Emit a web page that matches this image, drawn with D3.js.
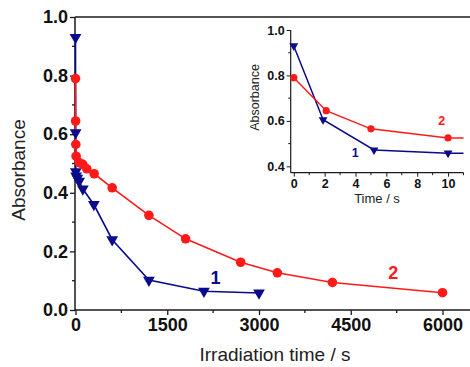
<!DOCTYPE html>
<html>
<head>
<meta charset="utf-8">
<script src="https://cdn.jsdelivr.net/npm/d3@7"></script>
<style>
html,body{margin:0;padding:0;background:#fff;}
svg{display:block;}
text{font-family:"Liberation Sans",Arial,sans-serif;}
</style>
</head>
<body>
<script>
// ---- data ----
const series1Time = [0, 1.9, 5.2, 10, 30, 60, 120, 300, 600, 1200, 2100, 3000];
const series1Abs  = [0.93, 0.605, 0.472, 0.458, 0.45, 0.44, 0.413, 0.36, 0.24, 0.102, 0.064, 0.058];
const series2Time = [0, 2.1, 5, 10, 60, 120, 185, 305, 600, 1200, 1800, 2700, 3300, 4200, 6000];
const series2Abs  = [0.79, 0.645, 0.565, 0.525, 0.503, 0.497, 0.482, 0.465, 0.417, 0.323, 0.243, 0.163, 0.127, 0.094, 0.059];
const seriesNames = ["1", "2"];
const mainXTicks = [0, 1500, 3000, 4500, 6000];
const mainYTicks = [0.0, 0.2, 0.4, 0.6, 0.8, 1.0];
const insetXTicks = [0, 2, 4, 6, 8, 10];
const insetYTicks = [0.4, 0.6, 0.8, 1.0];

const blue = "#0a0a8c", red = "#ff1a1a", axisCol = "#1a1a1a";
const W = 470, H = 367;
const svg = d3.select("body").append("svg").attr("width", W).attr("height", H);

const s1 = series1Time.map((t, i) => ({t, a: series1Abs[i]}));
const s2 = series2Time.map((t, i) => ({t, a: series2Abs[i]}));

// ---- main chart ----
const x = d3.scaleLinear().domain([0, 6500]).range([75.5, 473.1]);
const y = d3.scaleLinear().domain([0, 1]).range([310, 17]);

// top frame line
svg.append("line").attr("x1", 75).attr("x2", W).attr("y1", 17).attr("y2", 17)
  .attr("stroke", axisCol).attr("stroke-width", 1.5);

const xAxis = d3.axisBottom(x).tickValues(mainXTicks).tickFormat(d3.format("d")).tickSize(5).tickPadding(3);
const gx = svg.append("g").attr("transform", "translate(0,310)").call(xAxis);
gx.select(".domain").attr("stroke", axisCol).attr("stroke-width", 1.5).attr("d", `M75,0H${W}`);
gx.selectAll(".tick line").attr("stroke", axisCol).attr("stroke-width", 1.3);
gx.selectAll(".tick text").attr("font-size", 18).attr("font-weight", "bold").attr("fill", "#111");
gx.selectAll(".minor").data([750, 2250, 3750, 5250]).enter().append("line")
  .attr("x1", d => x(d)).attr("x2", d => x(d)).attr("y1", 0).attr("y2", 3)
  .attr("stroke", axisCol).attr("stroke-width", 1.3);

const yAxis = d3.axisLeft(y).tickValues(mainYTicks).tickFormat(d3.format(".1f")).tickSize(5).tickPadding(2);
const gy = svg.append("g").attr("transform", "translate(75,0)").call(yAxis);
gy.select(".domain").attr("stroke", axisCol).attr("stroke-width", 1.5).attr("d", "M0,17V310");
gy.selectAll(".tick line").attr("stroke", axisCol).attr("stroke-width", 1.3);
gy.selectAll(".tick text").attr("font-size", 18).attr("font-weight", "bold").attr("fill", "#111");
gy.selectAll(".minor").data([0.1, 0.3, 0.5, 0.7, 0.9]).enter().append("line")
  .attr("x1", 0).attr("x2", -3).attr("y1", d => y(d)).attr("y2", d => y(d))
  .attr("stroke", axisCol).attr("stroke-width", 1.3);

svg.append("text").attr("x", 275).attr("y", 361).attr("text-anchor", "middle")
  .attr("font-size", 19).attr("fill", "#222").text("Irradiation time / s");
svg.append("text").attr("transform", "translate(25,170) rotate(-90)").attr("text-anchor", "middle")
  .attr("font-size", 19).attr("fill", "#222").text("Absorbance");

const line = d3.line().x(d => x(d.t)).y(d => y(d.a));
svg.append("path").datum(s1).attr("d", line).attr("fill", "none").attr("stroke", blue).attr("stroke-width", 1.6);
svg.append("path").datum(s2).attr("d", line).attr("fill", "none").attr("stroke", red).attr("stroke-width", 1.6);

const triMain = d3.symbol().type(d3.symbolTriangle).size(60);
svg.append("g").selectAll("path").data(s1).enter().append("path")
  .attr("d", triMain).attr("transform", d => `translate(${x(d.t)},${y(d.a)}) rotate(180)`)
  .attr("fill", blue);
svg.append("g").selectAll("circle").data(s2).enter().append("circle")
  .attr("cx", d => x(d.t)).attr("cy", d => y(d.a)).attr("r", 4.8).attr("fill", red);

svg.append("text").attr("x", 215.5).attr("y", 283.5).attr("text-anchor", "middle")
  .attr("font-size", 18).attr("font-weight", "bold").attr("fill", blue).text(seriesNames[0]);
svg.append("text").attr("x", 393.3).attr("y", 279).attr("text-anchor", "middle")
  .attr("font-size", 18).attr("font-weight", "bold").attr("fill", red).text(seriesNames[1]);

// ---- inset ----
const ix = d3.scaleLinear().domain([-0.2, 11]).range([290.7, 463.5]);
const iy = d3.scaleLinear().domain([0.372, 1.0]).range([172.7, 30]);
const inset = svg.append("g");
inset.append("clipPath").attr("id", "iclip").append("rect")
  .attr("x", 290.7).attr("y", 25).attr("width", 463.5 - 290.7).attr("height", 172.7 - 25);

const ixAxis = d3.axisBottom(ix).tickValues(insetXTicks).tickFormat(d3.format("d")).tickSize(4).tickPadding(2);
const igx = inset.append("g").attr("transform", "translate(0,172.7)").call(ixAxis);
igx.select(".domain").attr("stroke", axisCol).attr("stroke-width", 1.2).attr("d", "M290.7,0H463.5");
igx.selectAll(".tick line").attr("stroke", axisCol).attr("stroke-width", 1);
igx.selectAll(".tick text").attr("font-size", 12.5).attr("font-weight", "bold").attr("fill", "#111");
igx.selectAll(".minor").data([1, 3, 5, 7, 9, 11]).enter().append("line")
  .attr("x1", d => ix(d)).attr("x2", d => ix(d)).attr("y1", 0).attr("y2", 2.5)
  .attr("stroke", axisCol).attr("stroke-width", 1);

const iyAxis = d3.axisLeft(iy).tickValues(insetYTicks).tickFormat(d3.format(".1f")).tickSize(4).tickPadding(2);
const igy = inset.append("g").attr("transform", "translate(290.7,0)").call(iyAxis);
igy.select(".domain").attr("stroke", axisCol).attr("stroke-width", 1.2).attr("d", "M0,30V172.7");
igy.selectAll(".tick line").attr("stroke", axisCol).attr("stroke-width", 1);
igy.selectAll(".tick text").attr("font-size", 12.5).attr("font-weight", "bold").attr("fill", "#111");
igy.selectAll(".minor").data([0.5, 0.7, 0.9]).enter().append("line")
  .attr("x1", 0).attr("x2", -2.5).attr("y1", d => iy(d)).attr("y2", d => iy(d))
  .attr("stroke", axisCol).attr("stroke-width", 1);

inset.append("text").attr("x", 377).attr("y", 203).attr("text-anchor", "middle")
  .attr("font-size", 13).attr("fill", "#222").text("Time / s");
inset.append("text").attr("transform", "translate(259,97.5) rotate(-90)").attr("text-anchor", "middle")
  .attr("font-size", 12.5).attr("fill", "#222").text("Absorbance");

const iline = d3.line().x(d => ix(d.t)).y(d => iy(d.a));
const ic = inset.append("g").attr("clip-path", "url(#iclip)");
ic.append("path").datum(s1).attr("d", iline).attr("fill", "none").attr("stroke", blue).attr("stroke-width", 1.5);
ic.append("path").datum(s2).attr("d", iline).attr("fill", "none").attr("stroke", red).attr("stroke-width", 1.5);
const triInset = d3.symbol().type(d3.symbolTriangle).size(34);
inset.append("g").selectAll("path").data(s1.filter(d => d.t <= 11)).enter().append("path")
  .attr("d", triInset).attr("transform", d => `translate(${ix(d.t)},${iy(d.a)}) rotate(180)`)
  .attr("fill", blue);
inset.append("g").selectAll("circle").data(s2.filter(d => d.t <= 11)).enter().append("circle")
  .attr("cx", d => ix(d.t)).attr("cy", d => iy(d.a)).attr("r", 3.6).attr("fill", red);

inset.append("text").attr("x", 355.3).attr("y", 157).attr("text-anchor", "middle")
  .attr("font-size", 12.5).attr("font-weight", "bold").attr("fill", blue).text(seriesNames[0]);
inset.append("text").attr("x", 441.7).attr("y", 125).attr("text-anchor", "middle")
  .attr("font-size", 12.5).attr("font-weight", "bold").attr("fill", red).text(seriesNames[1]);
</script>
</body>
</html>
